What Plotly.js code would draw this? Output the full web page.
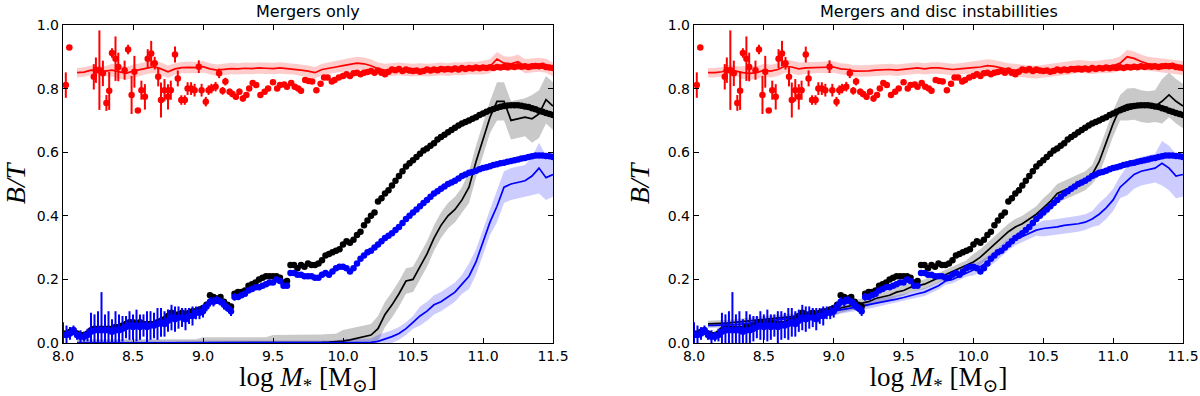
<!DOCTYPE html>
<html>
<head>
<meta charset="utf-8">
<script src="https://cdn.plot.ly/plotly-3.0.1.min.js"></script>
<style>html,body{margin:0;padding:0;background:#fff;}#chart{width:1200px;height:396px;}</style>
</head>
<body>
<div id="chart"></div>
<script>
// ---------- titles / ticks ----------
const panelTitles = ['Mergers only', 'Mergers and disc instabillities'];
const xTickVals = [8.0, 8.5, 9.0, 9.5, 10.0, 10.5, 11.0, 11.5];
const yTickVals = [0.0, 0.2, 0.4, 0.6, 0.8, 1.0];

// ---------- observational data (same in both panels) ----------
const xObs = [8.000,8.025,8.050,8.075,8.100,8.125,8.150,8.175,8.200,8.225,8.250,8.275,8.300,8.325,8.350,8.375,8.400,8.425,8.450,8.475,
8.500,8.525,8.550,8.575,8.600,8.625,8.650,8.675,8.700,8.725,8.750,8.775,8.800,8.825,8.850,8.875,8.900,8.925,8.950,8.975,
9.000,9.025,9.050,9.075,9.100,9.125,9.150,9.175,9.200,9.225,9.250,9.275,9.300,9.325,9.350,9.375,9.400,9.425,9.450,9.475,
9.500,9.525,9.550,9.575,9.600,9.625,9.650,9.675,9.700,9.725,9.750,9.775,9.800,9.825,9.850,9.875,9.900,9.925,9.950,9.975,
10.000,10.025,10.050,10.075,10.100,10.125,10.150,10.175,10.200,10.225,10.250,10.275,10.300,10.325,10.350,10.375,10.400,10.425,10.450,10.475,
10.500,10.525,10.550,10.575,10.600,10.625,10.650,10.675,10.700,10.725,10.750,10.775,10.800,10.825,10.850,10.875,10.900,10.925,10.950,10.975,
11.000,11.025,11.050,11.075,11.100,11.125,11.150,11.175,11.200,11.225,11.250,11.275,11.300,11.325,11.350,11.375,11.400,11.425,11.450,11.475,
11.500];
const blackObs = [0.03,0.03,0.035,0.04,0.03,0.025,0.025,0.03,0.04,0.045,0.045,0.045,0.045,0.045,0.045,0.05,0.05,0.055,0.06,0.065,
0.065,0.06,0.065,0.06,0.06,0.06,0.06,0.065,0.07,0.075,0.085,0.095,0.09,0.09,0.095,0.09,0.095,0.10,0.10,0.105,
0.11,0.12,0.15,0.145,0.14,0.145,0.13,0.12,0.115,0.155,0.16,0.16,0.165,0.18,0.185,0.19,0.20,0.205,0.21,0.21,
0.21,0.21,0.205,0.19,0.195,0.245,0.245,0.235,0.245,0.24,0.25,0.245,0.245,0.25,0.26,0.275,0.28,0.285,0.29,0.295,
0.31,0.32,0.315,0.325,0.34,0.35,0.37,0.385,0.40,0.41,0.445,0.455,0.47,0.48,0.495,0.51,0.525,0.54,0.555,0.565,
0.575,0.585,0.595,0.605,0.612,0.62,0.628,0.64,0.648,0.655,0.663,0.67,0.677,0.684,0.69,0.695,0.70,0.705,0.71,0.717,
0.722,0.727,0.732,0.736,0.74,0.743,0.745,0.747,0.748,0.748,0.748,0.746,0.744,0.742,0.738,0.735,0.73,0.727,0.723,0.72,
0.717];
const blueObs = [0.025,0.025,0.03,0.04,0.025,0.02,0.02,0.025,0.035,0.04,0.04,0.04,0.04,0.04,0.035,0.04,0.04,0.045,0.05,0.055,
0.05,0.055,0.05,0.055,0.05,0.055,0.055,0.06,0.065,0.06,0.07,0.08,0.075,0.08,0.08,0.075,0.085,0.085,0.095,0.095,
0.10,0.115,0.13,0.13,0.135,0.13,0.12,0.11,0.10,0.145,0.145,0.15,0.155,0.165,0.17,0.175,0.175,0.18,0.185,0.19,
0.19,0.20,0.195,0.18,0.18,0.22,0.22,0.215,0.215,0.21,0.21,0.21,0.205,0.205,0.215,0.22,0.215,0.225,0.235,0.24,
0.24,0.235,0.225,0.235,0.25,0.265,0.275,0.285,0.29,0.30,0.31,0.32,0.33,0.337,0.345,0.355,0.365,0.377,0.39,0.40,
0.41,0.42,0.43,0.44,0.45,0.46,0.47,0.477,0.485,0.492,0.50,0.505,0.51,0.517,0.525,0.53,0.535,0.538,0.542,0.546,
0.55,0.553,0.556,0.56,0.562,0.565,0.567,0.57,0.572,0.575,0.577,0.58,0.582,0.585,0.587,0.59,0.59,0.59,0.588,0.587,
0.585];
const blueObsErr = [0.04,0.03,0.02,0.015,0.015,0.02,0.015,0.02,0.06,0.05,0.06,0.12,0.05,0.06,0.04,0.06,0.05,0.04,0.035,0.045,
0.04,0.05,0.04,0.035,0.05,0.045,0.04,0.05,0.045,0.04,0.035,0.04,0.04,0.035,0.03,0.035,0.025,0.03,0.02,0.02,
0.02,0.015,0.015,0.015,0.012,0.012,0.015,0.012,0.015,0.012,0.01];
const xRedObs = [8.02,8.045,8.22,8.235,8.26,8.285,8.31,8.33,8.35,8.375,8.395,8.44,8.465,8.49,8.51,8.535,8.56,8.585,8.605,8.63,
8.655,8.68,8.70,8.725,8.75,8.77,8.80,8.82,8.845,8.87,8.89,8.915,8.94,8.97,8.99,9.02,9.04,9.06,9.09,9.115,
9.14,9.16,9.19,9.21,9.235,9.26,9.285,9.31,9.33,9.355,9.38,9.41,9.44,9.465,9.50,9.53,9.55,9.58,9.60,9.63,
9.655,9.68,9.70,9.73,9.755,9.78,9.81,9.84,9.865,9.89,9.92,9.94,9.97,10.0,
10.025,10.05,10.075,10.1,10.125,10.15,10.175,10.2,10.225,10.25,10.275,10.3,10.325,10.35,10.375,10.4,10.425,10.45,10.475,10.5,
10.525,10.55,10.575,10.6,10.625,10.65,10.675,10.7,10.725,10.75,10.775,10.8,10.825,10.85,10.875,10.9,10.925,10.95,10.975,11.0,
11.025,11.05,11.075,11.1,11.125,11.15,11.175,11.2,11.225,11.25,11.275,11.3,11.325,11.35,11.375,11.4,11.425,11.45,11.475,11.5];
const redObs = [0.811,0.929,0.837,0.858,0.858,0.848,0.755,0.793,0.912,0.894,0.868,0.858,0.923,0.78,0.853,0.731,0.795,0.774,0.894,0.91,
0.88,0.837,0.764,0.795,0.774,0.795,0.907,0.832,0.764,0.764,0.80,0.80,0.795,0.869,0.795,0.759,0.795,0.80,0.806,0.848,
0.793,0.822,0.79,0.783,0.774,0.79,0.769,0.78,0.80,0.818,0.811,0.78,0.79,0.80,0.82,0.80,0.811,0.813,0.806,0.818,
0.806,0.80,0.793,0.827,0.824,0.822,0.795,0.815,0.835,0.835,0.822,0.827,0.835,0.84,
0.845,0.84,0.848,0.85,0.845,0.85,0.852,0.855,0.85,0.857,0.85,0.845,0.853,0.86,0.858,0.862,0.855,0.86,0.857,0.855,
0.857,0.853,0.855,0.86,0.857,0.86,0.858,0.862,0.86,0.862,0.86,0.863,0.86,0.865,0.862,0.865,0.863,0.866,0.864,0.866,
0.865,0.867,0.865,0.868,0.866,0.869,0.867,0.87,0.868,0.87,0.869,0.87,0.868,0.87,0.871,0.87,0.872,0.868,0.866,0.865];
const redObsErr = [0.04,0,0.04,0.04,0.125,0.04,0.025,0.06,0.015,0.07,0.045,0.03,0.015,0.06,0.05,0,0.03,0.04,0.03,0.04,
0.02,0.03,0.055,0.035,0.04,0.03,0.025,0.025,0.015,0.015,0.02,0.02,0.02,0.02,0.02,0.015,0.015,0.015,0.015,0.015,
0.012,0.012,0.01,0.01,0.01,0.01,0.01,0.008,0.008,0.008];

// ---------- model curves ----------
const xMod = [8.10,8.15,8.20,8.25,8.30,8.35,8.40,8.45,8.50,8.55,8.60,8.65,8.70,8.75,8.80,8.85,8.90,8.95,9.00,9.05,
9.10,9.15,9.20,9.25,9.30,9.35,9.40,9.45,9.50,9.55,9.60,9.65,9.70,9.75,9.80,9.85,9.90,9.95,10.00,10.05,
10.10,10.15,10.20,10.25,10.30,10.35,10.40,10.45,10.50,10.55,10.60,10.65,10.70,10.75,10.80,10.85,10.90,10.95,11.00,11.05,
11.10,11.15,11.20,11.25,11.30,11.35,11.40,11.45,11.50];

// panel A: mergers only
const redModA = [0.850,0.852,0.858,0.857,0.855,0.858,0.852,0.848,0.855,0.86,0.866,0.869,0.862,0.853,0.862,0.866,0.867,0.866,0.869,0.862,
0.858,0.86,0.863,0.862,0.864,0.863,0.865,0.864,0.863,0.865,0.863,0.862,0.858,0.855,0.85,0.86,0.865,0.868,0.872,0.876,
0.88,0.878,0.872,0.862,0.858,0.86,0.862,0.86,0.858,0.86,0.858,0.86,0.862,0.86,0.863,0.862,0.865,0.864,0.866,0.87,
0.893,0.88,0.878,0.885,0.87,0.872,0.875,0.872,0.86];
const redSprA = [0.015,0.015,0.015,0.015,0.015,0.02,0.02,0.02,0.02,0.02,0.02,0.02,0.02,0.02,0.018,0.018,0.018,0.018,0.018,0.018,
0.018,0.018,0.018,0.018,0.018,0.018,0.018,0.018,0.018,0.018,0.018,0.018,0.018,0.018,0.018,0.018,0.018,0.018,0.02,0.02,
0.02,0.02,0.02,0.02,0.02,0.02,0.02,0.02,0.02,0.02,0.02,0.02,0.02,0.02,0.02,0.02,0.02,0.02,0.022,0.022,
0.022,0.022,0.022,0.022,0.022,0.022,0.022,0.022,0.022];
const blackModA = [0,0,0,0,0,0,0,0,0,0,0,0,0,0,0,0,0,0,0,0,
0,0,0,0,0,0,0,0,0,0,0,0,0,0,0,0.002,0.003,0.004,0.006,0.01,
0.015,0.02,0.025,0.045,0.09,0.12,0.155,0.195,0.2,0.24,0.28,0.33,0.37,0.40,0.42,0.45,0.49,0.57,0.64,0.71,
0.76,0.76,0.70,0.705,0.71,0.705,0.72,0.765,0.745];
const blackSprA = [0.012,0.012,0.012,0.012,0.012,0.012,0.012,0.012,0.012,0.012,0.012,0.012,0.012,0.012,0.012,0.012,0.012,0.012,0.018,0.018,
0.018,0.018,0.018,0.018,0.018,0.018,0.018,0.018,0.025,0.025,0.025,0.025,0.025,0.025,0.025,0.025,0.025,0.025,0.035,0.035,
0.035,0.035,0.035,0.04,0.04,0.04,0.04,0.04,0.04,0.04,0.04,0.04,0.04,0.04,0.04,0.04,0.05,0.05,0.05,0.05,
0.06,0.06,0.06,0.06,0.06,0.075,0.075,0.075,0.075];
const blueModA = [0,0,0,0,0,0,0,0,0,0,0,0,0,0,0,0,0,0,0,0,
0,0,0,0,0,0,0,0,0,0,0,0,0,0,0,0,0,0,0,0,
0,0,0.002,0.005,0.012,0.02,0.03,0.045,0.065,0.085,0.10,0.12,0.13,0.145,0.16,0.185,0.21,0.255,0.32,0.38,
0.43,0.49,0.50,0.505,0.51,0.525,0.55,0.52,0.53];
const blueSprA = [0.008,0.008,0.008,0.008,0.008,0.008,0.008,0.008,0.008,0.008,0.008,0.008,0.008,0.008,0.008,0.008,0.008,0.008,0.008,0.008,
0.008,0.008,0.008,0.008,0.008,0.008,0.008,0.008,0.008,0.008,0.008,0.008,0.008,0.008,0.008,0.008,0.008,0.008,0.012,0.012,
0.012,0.012,0.012,0.02,0.02,0.02,0.02,0.02,0.02,0.03,0.03,0.03,0.03,0.03,0.03,0.03,0.04,0.04,0.04,0.04,
0.05,0.05,0.05,0.05,0.05,0.06,0.08,0.07,0.07];

// panel B: mergers and disc instabilities
const redModB = [0.85,0.85,0.853,0.86,0.855,0.85,0.848,0.85,0.858,0.855,0.86,0.87,0.868,0.862,0.865,0.866,0.867,0.866,0.868,0.862,
0.86,0.855,0.855,0.856,0.858,0.86,0.86,0.858,0.86,0.862,0.865,0.862,0.865,0.865,0.862,0.86,0.862,0.865,0.866,0.868,
0.872,0.87,0.865,0.86,0.858,0.855,0.853,0.852,0.855,0.857,0.86,0.862,0.865,0.87,0.868,0.866,0.868,0.87,0.872,0.88,
0.9,0.895,0.885,0.878,0.875,0.872,0.87,0.868,0.865];
const redSprB = [0.015,0.015,0.015,0.015,0.015,0.02,0.02,0.02,0.02,0.02,0.02,0.02,0.02,0.02,0.018,0.018,0.018,0.018,0.018,0.018,
0.018,0.018,0.018,0.018,0.018,0.018,0.018,0.018,0.018,0.018,0.018,0.018,0.018,0.018,0.018,0.018,0.018,0.018,0.02,0.02,
0.02,0.02,0.02,0.02,0.02,0.02,0.02,0.02,0.02,0.02,0.02,0.02,0.02,0.02,0.02,0.02,0.02,0.02,0.022,0.022,
0.022,0.022,0.022,0.022,0.022,0.022,0.022,0.022,0.022];
const blackModB = [0.06,0.06,0.062,0.063,0.065,0.067,0.07,0.072,0.074,0.076,0.078,0.08,0.083,0.086,0.089,0.092,0.095,0.098,0.10,0.11,
0.115,0.12,0.125,0.13,0.14,0.145,0.15,0.16,0.165,0.175,0.18,0.185,0.195,0.205,0.215,0.225,0.235,0.245,0.255,0.27,
0.29,0.31,0.33,0.35,0.365,0.375,0.39,0.405,0.425,0.445,0.47,0.48,0.49,0.50,0.51,0.53,0.57,0.63,0.69,0.74,
0.75,0.752,0.745,0.742,0.745,0.76,0.78,0.76,0.745];
const blackSprB = [0.01,0.01,0.01,0.01,0.01,0.01,0.01,0.01,0.01,0.01,0.01,0.01,0.01,0.01,0.01,0.01,0.01,0.01,0.015,0.015,
0.015,0.015,0.015,0.015,0.015,0.015,0.015,0.015,0.015,0.015,0.015,0.015,0.015,0.015,0.015,0.015,0.015,0.015,0.025,0.025,
0.025,0.025,0.025,0.025,0.025,0.025,0.025,0.025,0.03,0.03,0.03,0.03,0.03,0.03,0.03,0.03,0.04,0.04,0.04,0.04,
0.05,0.05,0.05,0.05,0.05,0.07,0.07,0.07,0.07];
const blueModB = [0.055,0.055,0.056,0.057,0.058,0.06,0.062,0.065,0.068,0.07,0.073,0.076,0.08,0.083,0.086,0.089,0.093,0.097,0.10,0.105,
0.108,0.112,0.116,0.12,0.124,0.128,0.133,0.138,0.143,0.15,0.155,0.16,0.17,0.18,0.195,0.2,0.21,0.22,0.23,0.24,
0.255,0.27,0.29,0.31,0.325,0.335,0.345,0.355,0.36,0.362,0.365,0.37,0.372,0.375,0.38,0.39,0.405,0.425,0.45,0.49,
0.51,0.53,0.54,0.545,0.55,0.565,0.55,0.525,0.53];
const blueSprB = [0.008,0.008,0.008,0.008,0.008,0.008,0.008,0.008,0.008,0.008,0.008,0.008,0.008,0.008,0.008,0.008,0.008,0.008,0.012,0.012,
0.012,0.012,0.012,0.012,0.012,0.012,0.012,0.012,0.012,0.012,0.012,0.012,0.012,0.012,0.012,0.012,0.012,0.012,0.018,0.018,
0.018,0.018,0.018,0.018,0.018,0.018,0.018,0.018,0.025,0.025,0.025,0.025,0.025,0.025,0.025,0.025,0.035,0.035,0.035,0.035,
0.045,0.045,0.045,0.045,0.045,0.07,0.07,0.07,0.07];

// ---------- drawing ----------
const COL = {red:'#ff0000', black:'#000000', blue:'#0000ff'};
const BAND = {red:'rgba(255,0,0,0.2)', black:'rgba(120,120,120,0.4)', blue:'rgba(0,0,255,0.2)'};

function band(mod, spr, fill, xa, ya) {
  const up = mod.map((v, i) => v + spr[i]);
  const lo = mod.map((v, i) => v - spr[i]);
  return {x: xMod.concat(xMod.slice().reverse()), y: up.concat(lo.slice().reverse()),
    xaxis: xa, yaxis: ya, type: 'scatter', mode: 'lines', fill: 'toself', fillcolor: fill,
    line: {width: 0, color: 'rgba(0,0,0,0)'}, hoverinfo: 'skip'};
}
function line(mod, color, xa, ya) {
  return {x: xMod, y: mod, xaxis: xa, yaxis: ya, type: 'scatter', mode: 'lines',
    line: {color: color, width: 1.7}};
}
function dots(x, y, err, color, xa, ya) {
  const t = {x: x, y: y, xaxis: xa, yaxis: ya, type: 'scatter', mode: 'markers',
    marker: {color: color, size: 6.5, line: {width: 0}}};
  if (err) t.error_y = {type: 'data', array: err, visible: true, thickness: 2, width: 0, color: color};
  return t;
}

const panels = [
  {xa: 'x', ya: 'y', red: redModA, redS: redSprA, black: blackModA, blackS: blackSprA, blue: blueModA, blueS: blueSprA},
  {xa: 'x2', ya: 'y2', red: redModB, redS: redSprB, black: blackModB, blackS: blackSprB, blue: blueModB, blueS: blueSprB}
];
const traces = [];
panels.forEach(p => {
  traces.push(band(p.red, p.redS, BAND.red, p.xa, p.ya));
  traces.push(band(p.black, p.blackS, BAND.black, p.xa, p.ya));
  traces.push(band(p.blue, p.blueS, BAND.blue, p.xa, p.ya));
  traces.push(line(p.red, COL.red, p.xa, p.ya));
  traces.push(line(p.black, COL.black, p.xa, p.ya));
  traces.push(line(p.blue, COL.blue, p.xa, p.ya));
  traces.push(dots(xRedObs, redObs, redObsErr, COL.red, p.xa, p.ya));
  traces.push(dots(xObs, blackObs, null, COL.black, p.xa, p.ya));
  traces.push(dots(xObs, blueObs, blueObsErr, COL.blue, p.xa, p.ya));
});

const serif = 'Liberation Serif, DejaVu Serif, serif';
function xAxis(domain, anchor) {
  return {domain: domain, anchor: anchor, range: [8, 11.5], tickvals: xTickVals, tickformat: '.1f',
    ticks: 'inside', ticklen: 5, tickwidth: 1, tickcolor: '#000', mirror: 'ticks', showline: true,
    linecolor: '#000', linewidth: 1.2, showgrid: false, zeroline: false,
    tickfont: {family: 'DejaVu Sans', size: 14, color: '#000'},
    title: {text: 'log <i>M</i><sub>*</sub> [M<sub>⊙</sub>]', font: {family: serif, size: 27, color: '#000'}, standoff: 11}};
}
function yAxis(domain, anchor) {
  return {domain: domain, anchor: anchor, range: [0, 1], tickvals: yTickVals, tickformat: '.1f',
    ticks: 'inside', ticklen: 5, tickwidth: 1, tickcolor: '#000', mirror: 'ticks', showline: true,
    linecolor: '#000', linewidth: 1.2, showgrid: false, zeroline: false,
    tickfont: {family: 'DejaVu Sans', size: 14, color: '#000'},
    title: {text: 'B/T', font: {family: serif, size: 28, color: '#000', style: 'italic'}, standoff: 10}};
}
const yDom = [53/396, 371/396];
const layout = {
  width: 1200, height: 396, margin: {l: 0, r: 0, t: 0, b: 0},
  paper_bgcolor: '#fff', plot_bgcolor: '#fff', showlegend: false,
  xaxis: xAxis([63/1200, 553/1200], 'y'),
  yaxis: yAxis(yDom, 'x'),
  xaxis2: xAxis([694/1200, 1183/1200], 'y2'),
  yaxis2: yAxis(yDom, 'x2'),
  annotations: [
    {text: panelTitles[0], xref: 'paper', yref: 'paper', x: 308/1200, y: 1 - 12/396, xanchor: 'center', yanchor: 'middle',
     showarrow: false, font: {family: 'DejaVu Sans', size: 16, color: '#000'}},
    {text: panelTitles[1], xref: 'paper', yref: 'paper', x: 938.5/1200, y: 1 - 12/396, xanchor: 'center', yanchor: 'middle',
     showarrow: false, font: {family: 'DejaVu Sans', size: 16, color: '#000'}}
  ]
};
Plotly.newPlot('chart', traces, layout, {displayModeBar: false, staticPlot: true});
</script>
</body>
</html>
